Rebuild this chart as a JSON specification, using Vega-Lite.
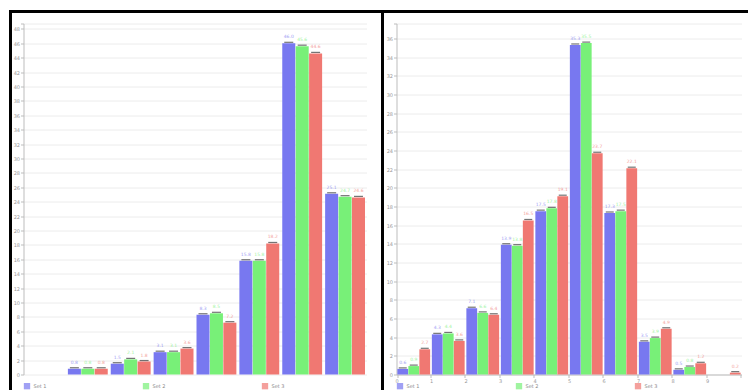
{
  "$schema": "https://vega.github.io/schema/vega-lite/v6.json",
  "background": "white",
  "padding": {"left": 7.5, "top": 8.5, "right": 0, "bottom": 0},
  "spacing": -3,
  "datasets": {
    "left": [
      {"bin": "1", "series": "Set 1", "pct": 0.8},
      {"bin": "1", "series": "Set 2", "pct": 0.8},
      {"bin": "1", "series": "Set 3", "pct": 0.8},
      {"bin": "2", "series": "Set 1", "pct": 1.5},
      {"bin": "2", "series": "Set 2", "pct": 2.1},
      {"bin": "2", "series": "Set 3", "pct": 1.8},
      {"bin": "3", "series": "Set 1", "pct": 3.1},
      {"bin": "3", "series": "Set 2", "pct": 3.1},
      {"bin": "3", "series": "Set 3", "pct": 3.6},
      {"bin": "4", "series": "Set 1", "pct": 8.3},
      {"bin": "4", "series": "Set 2", "pct": 8.5},
      {"bin": "4", "series": "Set 3", "pct": 7.2},
      {"bin": "5", "series": "Set 1", "pct": 15.8},
      {"bin": "5", "series": "Set 2", "pct": 15.8},
      {"bin": "5", "series": "Set 3", "pct": 18.2},
      {"bin": "6", "series": "Set 1", "pct": 46.0},
      {"bin": "6", "series": "Set 2", "pct": 45.6},
      {"bin": "6", "series": "Set 3", "pct": 44.6},
      {"bin": "7", "series": "Set 1", "pct": 25.1},
      {"bin": "7", "series": "Set 2", "pct": 24.7},
      {"bin": "7", "series": "Set 3", "pct": 24.6}
    ],
    "right": [
      {"bin": "0", "series": "Set 1", "pct": 0.6},
      {"bin": "0", "series": "Set 2", "pct": 0.9},
      {"bin": "0", "series": "Set 3", "pct": 2.7},
      {"bin": "1", "series": "Set 1", "pct": 4.3},
      {"bin": "1", "series": "Set 2", "pct": 4.4},
      {"bin": "1", "series": "Set 3", "pct": 3.6},
      {"bin": "2", "series": "Set 1", "pct": 7.1},
      {"bin": "2", "series": "Set 2", "pct": 6.6},
      {"bin": "2", "series": "Set 3", "pct": 6.4},
      {"bin": "3", "series": "Set 1", "pct": 13.9},
      {"bin": "3", "series": "Set 2", "pct": 13.8},
      {"bin": "3", "series": "Set 3", "pct": 16.5},
      {"bin": "4", "series": "Set 1", "pct": 17.5},
      {"bin": "4", "series": "Set 2", "pct": 17.8},
      {"bin": "4", "series": "Set 3", "pct": 19.1},
      {"bin": "5", "series": "Set 1", "pct": 35.3},
      {"bin": "5", "series": "Set 2", "pct": 35.5},
      {"bin": "5", "series": "Set 3", "pct": 23.7},
      {"bin": "6", "series": "Set 1", "pct": 17.3},
      {"bin": "6", "series": "Set 2", "pct": 17.5},
      {"bin": "6", "series": "Set 3", "pct": 22.1},
      {"bin": "7", "series": "Set 1", "pct": 3.5},
      {"bin": "7", "series": "Set 2", "pct": 3.9},
      {"bin": "7", "series": "Set 3", "pct": 4.9},
      {"bin": "8", "series": "Set 1", "pct": 0.5},
      {"bin": "8", "series": "Set 2", "pct": 0.8},
      {"bin": "8", "series": "Set 3", "pct": 1.2},
      {"bin": "9", "series": "Set 3", "pct": 0.2}
    ]
  },
  "hconcat": [
    {
      "width": 372,
      "height": 380,
      "view": {"fill": "white", "stroke": "transparent"},
      "layer": [
        {
          "data": {"name": "left"},
          "encoding": {
            "x": {
              "field": "bin", "type": "nominal",
              "scale": {"domain": ["0", "1", "2", "3", "4", "5", "6", "7"], "range": [13, 356], "paddingInner": 0.07, "paddingOuter": 0.035},
              "axis": {"offset": -17, "tickBand": "extent", "labelOffset": -21.4, "labelAngle": 0, "title": null}
            },
            "xOffset": {"field": "series", "type": "nominal", "scale": {"paddingInner": 0.03}},
            "y": {
              "field": "pct", "type": "quantitative",
              "scale": {"domain": [0, 48.75], "range": [363, 12], "nice": false},
              "axis": {
                "offset": -13, "title": null,
                "values": [0, 2, 4, 6, 8, 10, 12, 14, 16, 18, 20, 22, 24, 26, 28, 30, 32, 34, 36, 38, 40, 42, 44, 46, 48, 48.75],
                "labelExpr": "datum.value > 48.5 ? '' : datum.label"
              }
            },
            "color": {
              "field": "series", "type": "nominal",
              "scale": {"domain": ["Set 1", "Set 2", "Set 3"], "range": ["#7878f0", "#78f078", "#f07872"]},
              "legend": {"orient": "none", "legendX": 13, "legendY": 371, "direction": "horizontal", "columnPadding": 96}
            }
          },
          "layer": [
            {"mark": {"type": "bar"}},
            {"mark": {"type": "tick", "thickness": 1.2, "size": 9, "yOffset": -1}, "encoding": {"color": {"value": "#3a3a3a"}}},
            {"mark": {"type": "text", "fontSize": 4.5, "dy": -6, "opacity": 0.7}, "encoding": {"text": {"field": "pct", "format": ".1f"}}}
          ]
        },
        {
          "data": {"values": [{}]},
          "mark": {"type": "rule", "color": "black", "strokeWidth": 3, "strokeCap": "square"},
          "encoding": {
            "y": {
              "datum": 50.4167, "type": "quantitative",
              "axis": {
                "offset": -13, "title": null,
                "values": [0, 2, 4, 6, 8, 10, 12, 14, 16, 18, 20, 22, 24, 26, 28, 30, 32, 34, 36, 38, 40, 42, 44, 46, 48, 48.75],
                "labelExpr": "datum.value > 48.5 ? '' : datum.label"
              }
            }
          }
        },
        {
          "data": {"values": [{}]},
          "mark": {"type": "rule", "color": "black", "strokeWidth": 3},
          "encoding": {"x": {"datum": "0", "type": "nominal", "bandPosition": -0.36366, "axis": null}}
        },
        {
          "data": {"values": [{}]},
          "mark": {"type": "rule", "color": "black", "strokeWidth": 3},
          "encoding": {"x": {"datum": "7", "type": "nominal", "bandPosition": 1.43889, "axis": null}}
        }
      ]
    },
    {
      "width": 365,
      "height": 380,
      "view": {"fill": "white", "stroke": "transparent"},
      "layer": [
        {
          "data": {"name": "right"},
          "encoding": {
            "x": {
              "field": "bin", "type": "nominal",
              "scale": {"domain": ["0", "1", "2", "3", "4", "5", "6", "7", "8", "9"], "range": [11, 356], "paddingInner": 0.05, "paddingOuter": 0.025},
              "axis": {"offset": -17, "tickBand": "extent", "labelOffset": -17.2, "labelAngle": 0, "title": null}
            },
            "xOffset": {"field": "series", "type": "nominal", "scale": {"paddingInner": 0.02}},
            "y": {
              "field": "pct", "type": "quantitative",
              "scale": {"domain": [0, 37.6], "range": [363, 12], "nice": false},
              "axis": {
                "offset": -11, "title": null,
                "values": [0, 2, 4, 6, 8, 10, 12, 14, 16, 18, 20, 22, 24, 26, 28, 30, 32, 34, 36, 37.6],
                "labelExpr": "datum.value > 37 ? '' : datum.label"
              }
            },
            "color": {
              "field": "series", "type": "nominal",
              "scale": {"domain": ["Set 1", "Set 2", "Set 3"], "range": ["#7878f0", "#78f078", "#f07872"]},
              "legend": {"orient": "none", "legendX": 11, "legendY": 371, "direction": "horizontal", "columnPadding": 96}
            }
          },
          "layer": [
            {"mark": {"type": "bar"}},
            {"mark": {"type": "tick", "thickness": 1.2, "size": 8, "yOffset": -1}, "encoding": {"color": {"value": "#3a3a3a"}}},
            {"mark": {"type": "text", "fontSize": 4.5, "dy": -6, "opacity": 0.7}, "encoding": {"text": {"field": "pct", "format": ".1f"}}}
          ]
        },
        {
          "data": {"values": [{}]},
          "mark": {"type": "rule", "color": "black", "strokeWidth": 3, "strokeCap": "square"},
          "encoding": {
            "y": {
              "datum": 38.8854, "type": "quantitative",
              "axis": {
                "offset": -11, "title": null,
                "values": [0, 2, 4, 6, 8, 10, 12, 14, 16, 18, 20, 22, 24, 26, 28, 30, 32, 34, 36, 37.6],
                "labelExpr": "datum.value > 37 ? '' : datum.label"
              }
            }
          }
        }
      ]
    }
  ],
  "resolve": {
    "scale": {"x": "independent", "y": "independent", "xOffset": "independent"},
    "legend": {"color": "independent"}
  },
  "config": {
    "font": "DejaVu Sans",
    "view": {"stroke": "transparent"},
    "axis": {
      "labelFontSize": 5, "labelColor": "#9a9a9a", "labelPadding": 1,
      "domainColor": "#bdbdbd", "tickColor": "#bdbdbd", "tickSize": 3,
      "gridColor": "#ececec"
    },
    "axisX": {"grid": false},
    "axisY": {"grid": true},
    "legend": {
      "title": null, "symbolType": "square", "symbolSize": 40, "symbolStrokeWidth": 0,
      "labelFontSize": 5, "labelColor": "#8a8a8a", "labelOffset": 3
    }
  }
}
